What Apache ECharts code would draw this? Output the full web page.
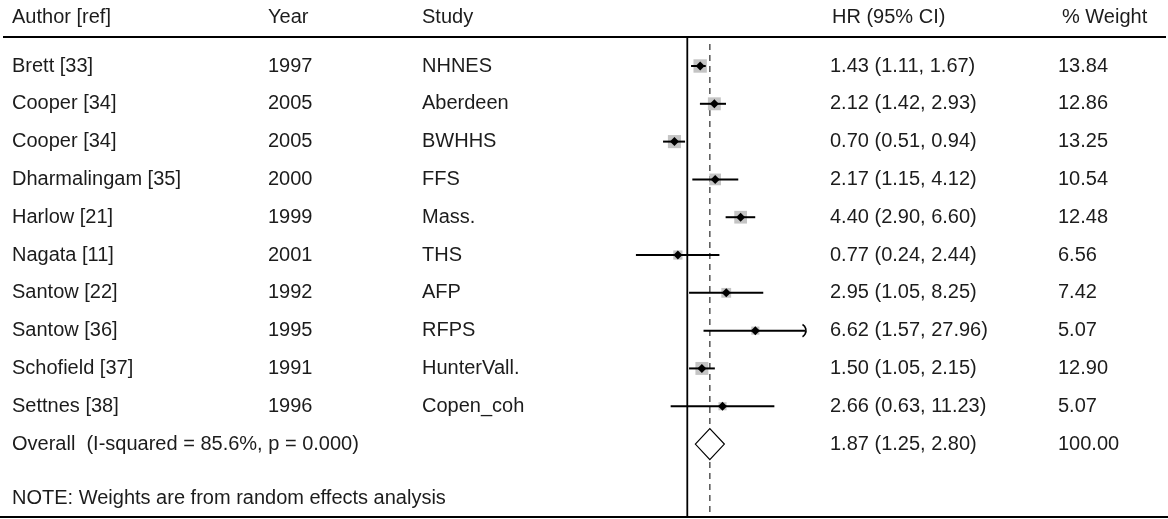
<!DOCTYPE html>
<html>

<head>
	<meta charset="utf-8" />
	<title>Forest plot</title>
	<script src="https://cdn.jsdelivr.net/npm/echarts@6/dist/echarts.min.js"></script>
	<style>
		html, body { margin: 0; padding: 0; background: #fff; }
		#main { width: 1168px; height: 519px; }
	</style>
</head>

<body>
	<div id="main"></div>
	<script type="text/javascript">
		// studies
		var authors = ['Brett [33]', 'Cooper [34]', 'Cooper [34]', 'Dharmalingam [35]', 'Harlow [21]',
			'Nagata [11]', 'Santow [22]', 'Santow [36]', 'Schofield [37]', 'Settnes [38]'];
		var years = ['1997', '2005', '2005', '2000', '1999', '2001', '1992', '1995', '1991', '1996'];
		var studies = ['NHNES', 'Aberdeen', 'BWHHS', 'FFS', 'Mass.', 'THS', 'AFP', 'RFPS', 'HunterVall.', 'Copen_coh'];
		var hr = [1.43, 2.12, 0.70, 2.17, 4.40, 0.77, 2.95, 6.62, 1.50, 2.66];
		var lower = [1.11, 1.42, 0.51, 1.15, 2.90, 0.24, 1.05, 1.57, 1.05, 0.63];
		var upper = [1.67, 2.93, 0.94, 4.12, 6.60, 2.44, 8.25, 27.96, 2.15, 11.23];
		var weights = [13.84, 12.86, 13.25, 10.54, 12.48, 6.56, 7.42, 5.07, 12.90, 5.07];

		// pooled estimate
		var overallLabel = 'Overall  (I-squared = 85.6%, p = 0.000)';
		var overallHR = 1.87;
		var overallLower = 1.25;
		var overallUpper = 2.80;
		var overallWeight = 100.00;

		var headers = ['Author [ref]', 'Year', 'Study', 'HR (95% CI)', '% Weight'];
		var note = 'NOTE: Weights are from random effects analysis';

		// layout
		var headerX = [12, 268, 422, 832, 1062];
		var colX = [12, 268, 422, 830, 1058];
		var axisMin = 0.0885, axisMax = 26.3;
		var FONT = '20px "Liberation Sans", Arial, sans-serif';
		var TXT = '#1c1c1c';

		function ciText(h, l, u) {
			return h.toFixed(2) + ' (' + l.toFixed(2) + ', ' + u.toFixed(2) + ')';
		}

		function txt(x, y, s) {
			return { type: 'text', style: { x: x, y: y, text: s, fill: TXT, font: FONT, align: 'left', verticalAlign: 'middle' } };
		}

		var studyData = [];
		for (var i = 0; i < hr.length; i++) {
			studyData.push([i, hr[i], lower[i], upper[i], weights[i]]);
		}

		function renderStudy(params, api) {
			var i = params.dataIndex;
			var row = api.value(0), h = api.value(1), lo = api.value(2), hi = api.value(3), w = api.value(4);
			var c = api.coord([h, row]);
			var pLo = api.coord([Math.max(lo, axisMin), row]);
			var pHi = api.coord([Math.min(hi, axisMax), row]);
			var side = 3.6 * Math.sqrt(w);
			var kids = [
				{ type: 'rect', shape: { x: c[0] - side / 2, y: c[1] - side / 2, width: side, height: side }, style: { fill: '#c4c4c4' } },
				{ type: 'line', shape: { x1: pLo[0], y1: c[1], x2: pHi[0], y2: c[1] }, style: { stroke: '#000', lineWidth: 2 } },
				{ type: 'polygon', shape: { points: [[c[0] - 4.5, c[1]], [c[0], c[1] - 4.5], [c[0] + 4.5, c[1]], [c[0], c[1] + 4.5]] }, style: { fill: '#000' } }
			];
			if (hi > axisMax) {
				kids.push({ type: 'arc', shape: { cx: pHi[0] - 6, cy: c[1], r: 7, startAngle: -Math.PI / 3, endAngle: Math.PI / 3 }, style: { stroke: '#000', fill: null, lineWidth: 1.6 } });
			}
			kids.push(txt(colX[0], c[1], authors[i]));
			kids.push(txt(colX[1], c[1], years[i]));
			kids.push(txt(colX[2], c[1], studies[i]));
			kids.push(txt(colX[3], c[1], ciText(h, lo, hi)));
			kids.push(txt(colX[4], c[1], w.toFixed(2)));
			return { type: 'group', children: kids };
		}

		function renderOverall(params, api) {
			var row = api.value(0), h = api.value(1), lo = api.value(2), hi = api.value(3), w = api.value(4);
			var c = api.coord([h, row]);
			var pLo = api.coord([lo, row]);
			var pHi = api.coord([hi, row]);
			var nullTop = api.coord([1, -0.767]), nullBot = api.coord([1, 11.93]);
			var dTop = api.coord([h, -0.58]), dBot = api.coord([h, 11.93]);
			return {
				type: 'group', children: [
					{ type: 'line', shape: { x1: nullTop[0], y1: nullTop[1], x2: nullBot[0], y2: nullBot[1] }, style: { stroke: '#000', lineWidth: 1.8 } },
					{ type: 'line', shape: { x1: dTop[0], y1: dTop[1], x2: dBot[0], y2: dBot[1] }, style: { stroke: '#555', lineWidth: 1.5, lineDash: [6, 5] } },
					{ type: 'polygon', shape: { points: [[pLo[0], c[1]], [c[0], c[1] - 15.5], [pHi[0], c[1]], [c[0], c[1] + 15.5]] }, style: { fill: '#fff', stroke: '#000', lineWidth: 1.2 } },
					txt(colX[0], c[1], overallLabel),
					txt(colX[3], c[1], ciText(h, lo, hi)),
					txt(colX[4], c[1], w.toFixed(2))
				]
			};
		}

		var headerTexts = [];
		for (var k = 0; k < headers.length; k++) {
			headerTexts.push({ type: 'text', x: headerX[k], y: 17, style: { text: headers[k], fill: TXT, font: FONT, verticalAlign: 'middle' } });
		}

		var myChart = echarts.init(document.getElementById('main'), null, { renderer: 'canvas' });
		option = {
			animation: false,
			backgroundColor: '#fff',
			grid: { left: 600, width: 205, top: 37, height: 480 },
			xAxis: { type: 'log', min: axisMin, max: axisMax, show: false },
			yAxis: { type: 'value', min: -0.767, max: 11.93, inverse: true, show: false },
			graphic: headerTexts.concat([
				{ type: 'line', shape: { x1: 3, y1: 37, x2: 1166, y2: 37 }, style: { stroke: '#000', lineWidth: 2 } },
				{ type: 'line', shape: { x1: 0, y1: 517, x2: 1168, y2: 517 }, style: { stroke: '#000', lineWidth: 2 } },
				{ type: 'text', x: colX[0], y: 498, style: { text: note, fill: TXT, font: FONT, verticalAlign: 'middle' } }
			]),
			series: [
				{
					type: 'custom',
					renderItem: renderOverall,
					encode: { x: [1, 2, 3], y: 0 },
					data: [[10, overallHR, overallLower, overallUpper, overallWeight]]
				},
				{
					type: 'custom',
					renderItem: renderStudy,
					encode: { x: [1, 2, 3], y: 0 },
					data: studyData
				}
			]
		};
		myChart.setOption(option);
	</script>
</body>

</html>
